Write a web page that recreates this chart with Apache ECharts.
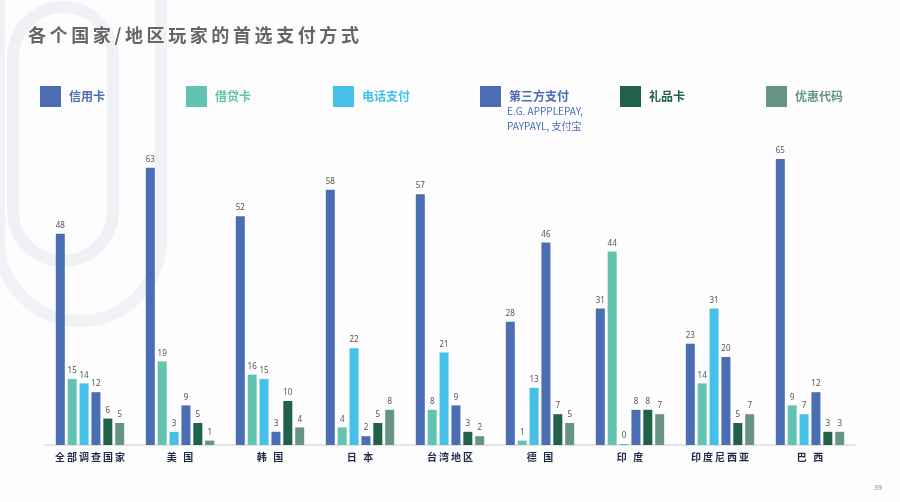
<!DOCTYPE html>
<html>
<head>
<meta charset="utf-8">
<script src="https://cdn.jsdelivr.net/npm/echarts@6/dist/echarts.min.js"></script>
<style>
html,body{margin:0;padding:0;background:#fdfdfe;}
#c{width:900px;height:502px;}
</style>
</head>
<body>
<div id="c"></div>
<script>
const categories = ['全部调查国家','美 国','韩 国','日 本','台湾地区','德 国','印 度','印度尼西亚','巴 西'];
const seriesNames = ['信用卡','借贷卡','电话支付','第三方支付','礼品卡','优惠代码'];
const creditCard   = [48, 63, 52, 58, 57, 28, 31, 23, 65];
const debitCard    = [15, 19, 16, 4, 8, 1, 44, 14, 9];
const phonePay     = [14, 3, 15, 22, 21, 13, 0, 31, 7];
const thirdParty   = [12, 9, 3, 2, 9, 46, 8, 20, 12];
const giftCard     = [6, 5, 10, 5, 3, 7, 8, 5, 3];
const couponCode   = [5, 1, 4, 8, 2, 5, 7, 7, 3];
const titleText = '各个国家/地区玩家的首选支付方式';
const thirdPartyNote = ['E.G. APPPLEPAY,', 'PAYPAYL, 支付宝'];
const pageNumber = '39';

const colors = ['#4a6db4', '#62c4b0', '#45c0e8', '#4a6db4', '#21614a', '#679484'];
const values = [creditCard, debitCard, phonePay, thirdParty, giftCard, couponCode];
const legendLeft = [40, 186, 333, 480, 620, 766];

const chart = echarts.init(document.getElementById('c'), null, {renderer: 'canvas'});

const legends = seriesNames.map((n, i) => ({
  data: [n],
  left: legendLeft[i],
  top: 86,
  padding: 0,
  itemWidth: 21,
  itemHeight: 21,
  icon: 'rect',
  selectedMode: false,
  textStyle: {color: colors[i], fontSize: 12, fontWeight: 'bold', padding: [0, 0, 0, 3],
    fontFamily: '"Noto Sans CJK SC", sans-serif'}
}));

const series = seriesNames.map((n, i) => ({
  name: n,
  type: 'bar',
  data: values[i],
  barWidth: 9,
  barGap: '32%',
  barMinHeight: 1,
  itemStyle: {color: colors[i]},
  label: {show: true, position: 'top', distance: 4, fontSize: 8, color: '#555',
    fontFamily: '"Noto Sans", sans-serif'},
  emphasis: {disabled: true}
}));

chart.setOption({
  backgroundColor: '#fdfdfe',
  animation: false,
  title: {
    text: titleText.split('').join('\u2009'),
    left: 28, top: 26, padding: 0,
    textStyle: {fontSize: 18, fontWeight: 'bold', color: '#666',
      fontFamily: '"Noto Sans CJK SC", sans-serif'}
  },
  legend: legends,
  grid: {left: 45, right: 45, top: 137, bottom: 57},
  xAxis: {
    type: 'category',
    data: categories,
    axisTick: {show: false},
    axisLine: {lineStyle: {color: '#dcdcdc', width: 1.5}},
    axisLabel: {
      interval: 0,
      margin: 7, fontSize: 10, fontWeight: 'bold', color: '#1e2a48',
      fontFamily: '"Noto Sans CJK SC", sans-serif',
      formatter: v => v.split('').join('\u2009')
    }
  },
  yAxis: {type: 'value', min: 0, max: 70, show: false},
  graphic: [
    {type: 'rect', z: -10, silent: true,
      shape: {x: 13, y: 7, width: 100, height: 254, r: 50},
      style: {fill: 'none', stroke: '#f0f1f7', lineWidth: 12}},
    {type: 'rect', z: -10, silent: true,
      shape: {x: -1, y: -100, width: 162, height: 421, r: 81},
      style: {fill: 'none', stroke: '#f1f2f7', lineWidth: 12}},
    {type: 'text', left: 507, top: 104,
      style: {text: thirdPartyNote.join('\n'), fill: '#4a6db4', fontSize: 10, lineHeight: 15,
        fontFamily: '"Noto Sans CJK SC", sans-serif'}},
    {type: 'text', left: 874, top: 484,
      style: {text: pageNumber, fill: '#888', fontSize: 7, fontFamily: '"Noto Sans", sans-serif'}}
  ],
  series: series
});
</script>
</body>
</html>
